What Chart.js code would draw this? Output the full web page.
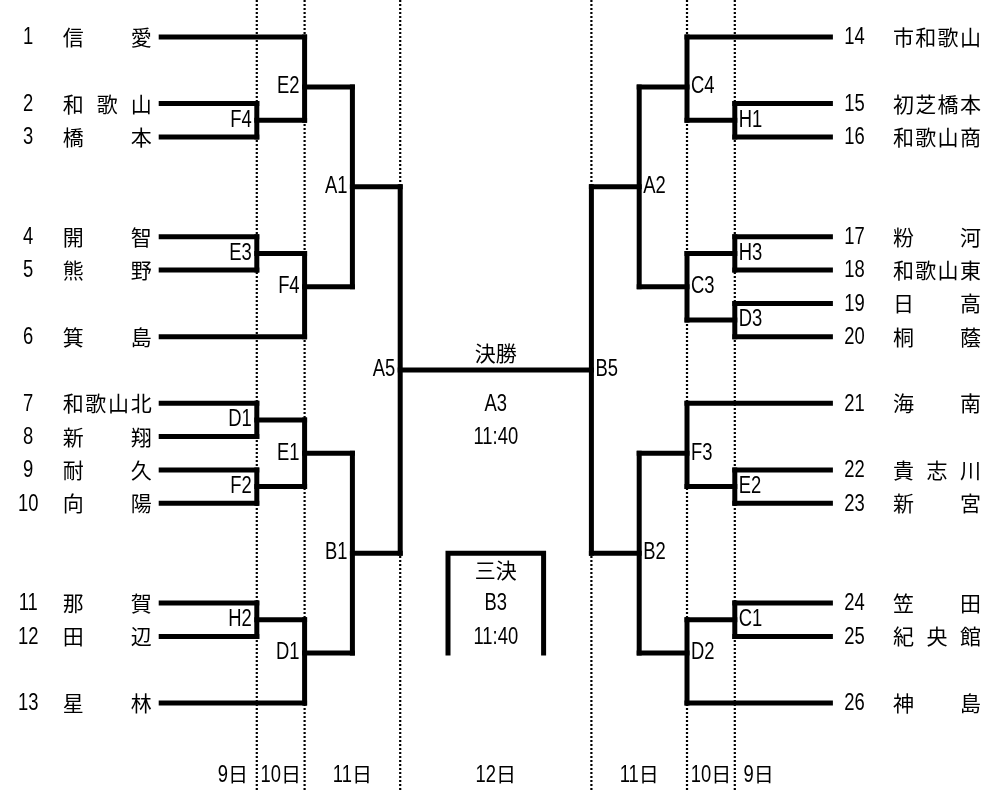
<!DOCTYPE html>
<html>
<head>
<meta charset="utf-8">
<script src="https://cdn.jsdelivr.net/npm/chart.js@4.4.1/dist/chart.umd.min.js"></script>
<style>
  html, body { margin: 0; padding: 0; background: #fff; }
  canvas { display: block; }
</style>
</head>
<body>
<canvas id="bracket" width="996" height="792"></canvas>
<script>
// teams, top to bottom (row = slot in the draw)
const leftSeeds = [1, 2, 3, 4, 5, 6, 7, 8, 9, 10, 11, 12, 13];
const leftTeams = ['信愛', '和歌山', '橋本', '開智', '熊野', '箕島', '和歌山北', '新翔', '耐久', '向陽', '那賀', '田辺', '星林'];
const leftRows = [0, 2, 3, 6, 7, 9, 11, 12, 13, 14, 17, 18, 20];

const rightSeeds = [14, 15, 16, 17, 18, 19, 20, 21, 22, 23, 24, 25, 26];
const rightTeams = ['市和歌山', '初芝橋本', '和歌山商', '粉河', '和歌山東', '日高', '桐蔭', '海南', '貴志川', '新宮', '笠田', '紀央館', '神島'];
const rightRows = [0, 2, 3, 6, 7, 8, 9, 11, 13, 14, 17, 18, 20];

// matches: court label, round, upper/lower entry row, row of the winner's line
const leftMatchLabels = ['F4', 'E2', 'E3', 'F4', 'A1', 'D1', 'F2', 'E1', 'H2', 'D1', 'B1', 'A5'];
const leftMatchRounds = [1, 2, 1, 2, 3, 1, 1, 2, 1, 2, 3, 4];
const leftMatchTop = [2, 0, 6, 6.5, 1.5, 11, 13, 11.5, 17, 17.5, 12.5, 4.5];
const leftMatchBottom = [3, 2.5, 7, 9, 7.5, 12, 14, 13.5, 18, 20, 18.5, 15.5];
const leftMatchOut = [2.5, 1.5, 6.5, 7.5, 4.5, 11.5, 13.5, 12.5, 17.5, 18.5, 15.5, 10];

const rightMatchLabels = ['H1', 'C4', 'H3', 'D3', 'C3', 'A2', 'E2', 'F3', 'C1', 'D2', 'B2', 'B5'];
const rightMatchRounds = [1, 2, 1, 1, 2, 3, 1, 2, 1, 2, 3, 4];
const rightMatchTop = [2, 0, 6, 8, 6.5, 1.5, 13, 11, 17, 17.5, 12.5, 4.5];
const rightMatchBottom = [3, 2.5, 7, 9, 8.5, 7.5, 14, 13.5, 18, 20, 18.5, 15.5];
const rightMatchOut = [2.5, 1.5, 6.5, 8.5, 7.5, 4.5, 13.5, 12.5, 17.5, 18.5, 15.5, 10];

// final and third place
const finalRow = 10;
const finalTexts = ['決勝', 'A3', '11:40'];
const finalTextRows = [9.5, 11, 12];
const thirdTop = 15.5;
const thirdBottom = 18.5;
const thirdTexts = ['三決', 'B3', '11:40'];
const thirdTextRows = [16, 17, 18];

// match days along the bottom
const dayLabels = ['9日', '10日', '11日', '12日', '11日', '10日', '9日'];
const dayColumns = [0.5, 1.5, 3, 6, 9, 10.5, 11.5];
const dayDividers = [1, 2, 4, 8, 10, 11];
const dayRow = 22.15;

// column of a round: left side counts 1..4 inwards, right side mirrors it, 0 = team edge
function colX(side, round) {
  if (side === 'L') return round === 0 ? -1 : round;
  return round === 0 ? 13 : 12 - round;
}

function buildSide(side, rows, rounds, tops, bottoms, outs) {
  const segs = [];
  rows.forEach(r => {
    let i = tops.indexOf(r);
    if (i < 0) i = bottoms.indexOf(r);
    segs.push([[colX(side, 0), r], [colX(side, rounds[i]), r]]);
  });
  rounds.forEach((rd, i) => {
    const x = colX(side, rd);
    segs.push([[x, tops[i]], [x, bottoms[i]]]);
    const p = tops.findIndex((t, j) => rounds[j] > rd && (t === outs[i] || bottoms[j] === outs[i]));
    if (p >= 0) segs.push([[x, outs[i]], [colX(side, rounds[p]), outs[i]]]);
  });
  return segs;
}

const segments = [
  ...buildSide('L', leftRows, leftMatchRounds, leftMatchTop, leftMatchBottom, leftMatchOut),
  ...buildSide('R', rightRows, rightMatchRounds, rightMatchTop, rightMatchBottom, rightMatchOut),
  [[colX('L', 4), finalRow], [colX('R', 4), finalRow]],
  [[5, thirdBottom], [5, thirdTop], [7, thirdTop], [7, thirdBottom]]
];

const Y_MIN = -1.1111, Y_MAX = 22.6727;

const datasets = segments.map(s => ({
  data: s.map(p => ({ x: p[0], y: p[1] })),
  borderColor: '#000',
  borderWidth: 5,
  borderCapStyle: 'square',
  borderJoinStyle: 'miter',
  fill: false,
  tension: 0,
  pointRadius: 0,
  pointHoverRadius: 0
}));

dayDividers.forEach(x => datasets.unshift({
  data: [{ x: x, y: Y_MIN }, { x: x, y: Y_MAX }],
  borderColor: '#000',
  borderWidth: 2.2,
  borderDash: [2, 2],
  fill: false,
  pointRadius: 0,
  pointHoverRadius: 0
}));

const LATIN = '"Liberation Sans", Arial, sans-serif';
const CJK = '"Noto Sans CJK JP", "Noto Sans CJK SC", sans-serif';
const NARROW = 0.8;

// draws a string, half-width runs squeezed like a narrow face, kanji in the CJK face
function drawMixed(ctx, text, x, y, align, latinSize, cjkSize) {
  const runs = text.match(/[\x00-\x7f]+|[^\x00-\x7f]+/g) || [];
  const latin = runs.map(r => /^[\x00-\x7f]/.test(r));
  const fonts = runs.map((r, i) => latin[i] ? latinSize + 'px ' + LATIN : cjkSize + 'px ' + CJK);
  const widths = runs.map((r, i) => {
    ctx.font = fonts[i];
    return ctx.measureText(r).width * (latin[i] ? NARROW : 1);
  });
  const total = widths.reduce((a, b) => a + b, 0);
  let cx = align === 'center' ? x - total / 2 : align === 'right' ? x - total : x;
  ctx.textAlign = 'left';
  runs.forEach((r, i) => {
    ctx.font = fonts[i];
    if (latin[i]) {
      ctx.save();
      ctx.translate(cx, y + 1);
      ctx.scale(NARROW, 1);
      ctx.fillText(r, 0, 0);
      ctx.restore();
    } else {
      ctx.fillText(r, cx, y);
    }
    cx += widths[i];
  });
}

// names spread evenly across a fixed slot
function drawSpread(ctx, name, x0, x1, y) {
  ctx.font = '21px ' + CJK;
  ctx.textAlign = 'center';
  const chars = Array.from(name);
  chars.forEach((c, i) => {
    const cx = chars.length === 1 ? (x0 + x1) / 2 : x0 + i * (x1 - x0) / (chars.length - 1);
    ctx.fillText(c, cx, y);
  });
}

const textPlugin = {
  id: 'bracketText',
  afterDatasetsDraw(chart) {
    const ctx = chart.ctx;
    const xs = chart.scales.x, ys = chart.scales.y;
    const px = v => xs.getPixelForValue(v);
    const py = v => ys.getPixelForValue(v);
    ctx.save();
    ctx.fillStyle = '#000';
    ctx.textBaseline = 'middle';

    const le = px(colX('L', 0)), re = px(colX('R', 0));
    leftTeams.forEach((t, i) => {
      const y = py(leftRows[i]);
      drawMixed(ctx, String(leftSeeds[i]), le - 133, y, 'center', 23, 21);
      drawSpread(ctx, t, le - 88, le - 20, y);
    });
    rightTeams.forEach((t, i) => {
      const y = py(rightRows[i]);
      drawMixed(ctx, String(rightSeeds[i]), re + 24, y, 'center', 23, 21);
      drawSpread(ctx, t, re + 73, re + 140, y);
    });

    leftMatchLabels.forEach((l, i) => {
      drawMixed(ctx, l, px(colX('L', leftMatchRounds[i])) - 5, py(leftMatchOut[i]) - 1, 'right', 23, 21);
    });
    rightMatchLabels.forEach((l, i) => {
      drawMixed(ctx, l, px(colX('R', rightMatchRounds[i])) + 4, py(rightMatchOut[i]) - 1, 'left', 23, 21);
    });

    const mid = px(6);
    finalTexts.forEach((t, i) => drawMixed(ctx, t, mid, py(finalTextRows[i]), 'center', 23, 21));
    thirdTexts.forEach((t, i) => drawMixed(ctx, t, mid, py(thirdTextRows[i]), 'center', 23, 21));
    dayLabels.forEach((t, i) => drawMixed(ctx, t, px(dayColumns[i]), py(dayRow), 'center', 23, 20));
    ctx.restore();
  }
};

new Chart(document.getElementById('bracket'), {
  type: 'line',
  data: { datasets: datasets },
  options: {
    responsive: false,
    animation: false,
    events: [],
    layout: { padding: 0 },
    plugins: { legend: { display: false }, tooltip: { enabled: false } },
    scales: {
      x: { type: 'linear', display: false, min: -4.3724, max: 16.4644 },
      y: { type: 'linear', display: false, reverse: true, min: Y_MIN, max: Y_MAX }
    }
  },
  plugins: [textPlugin]
});
</script>
</body>
</html>
